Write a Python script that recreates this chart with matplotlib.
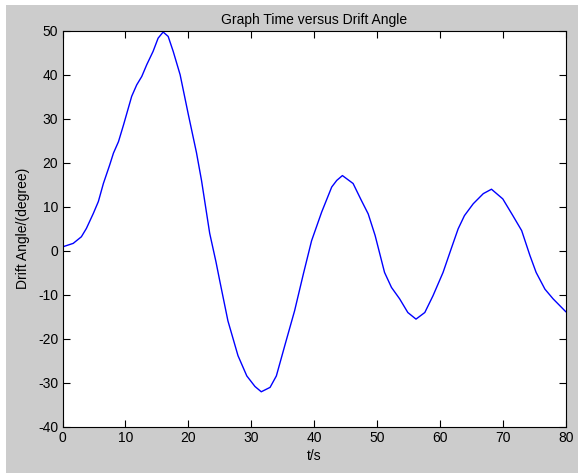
import matplotlib
matplotlib.use('Agg')
import matplotlib.pyplot as plt
from matplotlib.patches import Rectangle

# ==[0] Data (time in s, drift angle in degree)
t = [0.0, 1.7, 3.0, 3.8, 4.9, 5.7, 6.5, 7.5, 8.1, 8.9, 9.7, 11.0, 11.8, 12.6,
     13.4, 14.4, 15.2, 16.0, 16.8, 17.6, 18.7, 20.0, 21.3, 22.1, 23.4, 24.4,
     25.0, 26.3, 27.9, 29.3, 30.6, 31.6, 33.0, 34.0, 35.4, 36.9, 38.3, 39.6,
     41.2, 42.8, 43.6, 44.5, 46.2, 47.5, 48.6, 49.7, 51.2, 52.3, 53.6, 54.9,
     56.2, 57.6, 58.9, 60.5, 61.8, 62.9, 63.9, 65.3, 66.9, 68.2, 70.0, 71.6,
     73.0, 74.3, 75.3, 76.7, 78.0, 80.0]
drift = [0.9, 1.7, 3.2, 5.1, 8.5, 11.2, 15.3, 19.5, 22.2, 24.8, 28.6, 35.1, 37.7, 39.6,
         42.3, 45.3, 48.3, 49.7, 48.7, 45.3, 40.0, 31.0, 22.3, 16.0, 4.0, -2.5,
         -6.8, -15.9, -23.8, -28.4, -30.8, -32.0, -31.0, -28.4, -21.2, -13.6, -5.2, 2.3,
         8.8, 14.5, 16.0, 17.1, 15.3, 11.5, 8.4, 3.5, -4.9, -8.3, -10.9, -14.0,
         -15.5, -14.0, -10.2, -4.9, 0.5, 5.0, 8.0, 10.7, 13.0, 14.0, 11.8, 8.0,
         4.6, -1.0, -4.9, -8.7, -10.9, -13.8]
xticks = list(range(0, 81, 10))
yticks = list(range(-40, 51, 10))

plt.rcParams['font.family'] = ['Liberation Sans', 'DejaVu Sans']
plt.rcParams['axes.unicode_minus'] = False

# ==[1] Figure with MATLAB-like gray panel
W, H = 578, 474
fig = plt.figure(figsize=(W / 100, H / 100), dpi=100, facecolor='white')
fig.patches.append(Rectangle((5.5 / W, 1 / H), 1 - 5.5 / W, (H - 6) / H,
                             transform=fig.transFigure, facecolor='#cccccc',
                             edgecolor='none', zorder=-10))

ax = fig.add_axes([62.5 / W, (H - 427) / H, (565.7 - 62.5) / W, (427 - 30.7) / H])
ax.plot(t, drift, color='#0000ff', lw=1.0)

ax.set_xlim(0, 80)
ax.set_ylim(-40, 50)
ax.set_xticks(xticks)
ax.set_yticks(yticks)
ax.tick_params(direction='in', length=5, width=0.8, top=True, right=True,
               labelsize=10, pad=3)
for s in ax.spines.values():
    s.set_linewidth(0.8)

ax.set_title('Graph Time versus Drift Angle', fontsize=10, pad=5)
ax.set_xlabel('t/s', fontsize=10, labelpad=3)
ax.set_ylabel('Drift Angle/(degree)', fontsize=10, labelpad=6)

fig.savefig('out.png', dpi=100, facecolor=fig.get_facecolor())
